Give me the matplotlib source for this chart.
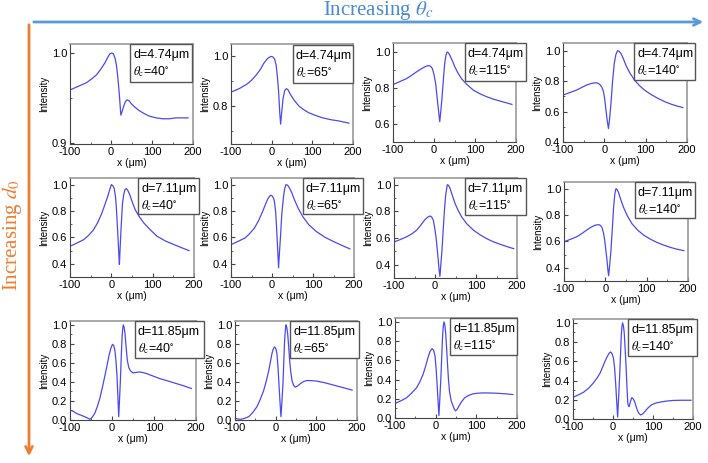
import matplotlib.pyplot as plt
from matplotlib.patches import Rectangle, FancyArrowPatch
from matplotlib.ticker import MultipleLocator

plt.rcParams['font.family'] = ['Liberation Sans', 'DejaVu Sans']
plt.rcParams['axes.unicode_minus'] = False
plt.rcParams['mathtext.fontset'] = 'stix'

d_labels = ['4.74', '7.11', '11.85']
theta_labels = ['40', '65', '115', '140']

# row 1: d = 4.74 um
x_11 = [-100, -80, -60, -45, -35, -25, -15, -8, -3, 2, 6, 10, 13, 16, 20, 24, 27, 31, 35, 39, 44, 49, 58, 69, 80, 93, 110, 126, 142, 158, 175, 188]
y_11 = [0.959, 0.963, 0.967, 0.972, 0.976, 0.982, 0.989, 0.995, 0.999, 1.0, 0.999, 0.994, 0.987, 0.976, 0.956, 0.931, 0.935, 0.941, 0.946, 0.948, 0.947, 0.944, 0.940, 0.936, 0.933, 0.930, 0.928, 0.927, 0.927, 0.928, 0.928, 0.928]
x_12 = [-100, -80, -62, -50, -37, -28, -19, -10, -2, 3, 7, 11, 14, 17, 20, 22, 25, 28, 32, 36, 40, 46, 55, 67, 80, 91, 108, 124, 145, 165, 190]
y_12 = [0.856, 0.870, 0.887, 0.903, 0.927, 0.947, 0.973, 0.992, 1.0, 0.998, 0.99, 0.965, 0.92, 0.86, 0.77, 0.727, 0.78, 0.83, 0.862, 0.870, 0.866, 0.847, 0.824, 0.80, 0.784, 0.773, 0.762, 0.753, 0.745, 0.74, 0.731]
x_13 = [-100, -84, -67, -55, -43, -33, -23, -16, -12, -8, -4, 0, 4, 7, 10, 14, 17, 20, 23, 26, 29, 32, 35, 38, 44, 51, 58, 67, 80, 96, 112, 129, 145, 162, 176, 190]
y_13 = [0.819, 0.835, 0.852, 0.870, 0.889, 0.904, 0.917, 0.923, 0.924, 0.92, 0.908, 0.875, 0.825, 0.76, 0.696, 0.613, 0.68, 0.76, 0.85, 0.935, 0.98, 1.0, 0.996, 0.985, 0.955, 0.917, 0.885, 0.852, 0.82, 0.788, 0.768, 0.751, 0.738, 0.727, 0.718, 0.709]
x_14 = [-100, -84, -67, -55, -43, -32, -22, -16, -11, -6, -2, 1, 4, 7, 10, 13, 16, 20, 24, 28, 32, 36, 40, 46, 52, 62, 73, 85, 97, 113, 130, 146, 162, 176, 190]
y_14 = [0.708, 0.724, 0.741, 0.758, 0.774, 0.784, 0.789, 0.787, 0.778, 0.76, 0.73, 0.68, 0.609, 0.54, 0.488, 0.56, 0.653, 0.80, 0.916, 0.975, 1.0, 0.995, 0.982, 0.947, 0.905, 0.852, 0.807, 0.77, 0.741, 0.712, 0.686, 0.665, 0.648, 0.636, 0.626]

# row 2: d = 7.11 um
x_21 = [-100, -84, -67, -55, -43, -33, -23, -16, -9, -4, 0, 4, 7, 10, 12, 14, 16, 18, 19.5, 21, 23, 25, 27, 30, 33, 36.5, 40, 45, 51, 58, 68, 79, 95, 111, 130, 151, 170, 188]
y_21 = [0.533, 0.556, 0.583, 0.615, 0.658, 0.712, 0.783, 0.845, 0.908, 0.96, 1.0, 0.99, 0.97, 0.91, 0.833, 0.72, 0.608, 0.48, 0.395, 0.50, 0.633, 0.75, 0.858, 0.925, 0.962, 0.97, 0.955, 0.92, 0.865, 0.808, 0.755, 0.708, 0.655, 0.608, 0.574, 0.546, 0.522, 0.50]
x_22 = [-100, -84, -66, -55, -43, -33, -23, -16, -11, -6, -2.5, 1, 4, 6, 9, 11, 13.5, 16, 18.5, 21, 24, 28, 31, 34, 38, 42, 48, 55, 64, 75, 90, 108, 128, 149, 170, 190]
y_22 = [0.545, 0.568, 0.595, 0.627, 0.67, 0.725, 0.795, 0.85, 0.887, 0.912, 0.92, 0.912, 0.895, 0.87, 0.79, 0.683, 0.53, 0.37, 0.50, 0.62, 0.78, 0.908, 0.97, 1.0, 0.995, 0.978, 0.94, 0.883, 0.82, 0.758, 0.695, 0.645, 0.603, 0.57, 0.54, 0.513]
x_23 = [-100, -85, -70, -57, -45, -35, -24.5, -17, -12, -8, -4, -1, 2.5, 5, 8, 10, 12, 14, 17, 20, 23, 26, 30, 33, 37, 42, 49, 56, 65, 78, 94, 110, 126, 142, 159, 175, 192]
y_23 = [0.57, 0.588, 0.608, 0.63, 0.658, 0.695, 0.738, 0.758, 0.765, 0.757, 0.733, 0.68, 0.608, 0.53, 0.433, 0.36, 0.313, 0.39, 0.508, 0.66, 0.808, 0.92, 1.0, 0.995, 0.97, 0.922, 0.858, 0.81, 0.758, 0.705, 0.658, 0.624, 0.595, 0.572, 0.553, 0.536, 0.52]
x_24 = [-100, -85, -70, -58, -46, -36, -26, -20, -14.5, -11, -8, -4.5, -1.6, 1, 4, 6, 8, 10.5, 13.7, 17, 20, 23, 25.8, 29, 32, 37, 44, 53, 64.5, 78, 93, 109, 125, 141, 157, 173, 190]
y_24 = [0.597, 0.615, 0.634, 0.657, 0.684, 0.705, 0.721, 0.726, 0.726, 0.718, 0.704, 0.665, 0.61, 0.54, 0.46, 0.39, 0.34, 0.42, 0.535, 0.70, 0.858, 0.96, 1.0, 0.99, 0.97, 0.92, 0.858, 0.795, 0.734, 0.686, 0.647, 0.617, 0.592, 0.572, 0.555, 0.541, 0.53]

# row 3: d = 11.85 um
x_31 = [-100, -92, -85, -75, -65, -57, -52, -47, -41, -35, -29, -23, -17.5, -12, -7, -3, 1, 4, 7, 9.5, 12, 14, 16, 18, 20, 22, 24, 25.5, 27, 29, 31, 33.5, 36.5, 40, 44, 50, 58, 66, 74, 82, 97, 113, 133, 153, 172, 189]
y_31 = [0.105, 0.09, 0.07, 0.052, 0.035, 0.018, 0.007, 0.03, 0.07, 0.14, 0.226, 0.34, 0.453, 0.57, 0.68, 0.75, 0.794, 0.785, 0.73, 0.62, 0.453, 0.25, 0.035, 0.22, 0.418, 0.66, 0.87, 0.96, 1.0, 0.97, 0.906, 0.77, 0.627, 0.55, 0.516, 0.495, 0.50, 0.505, 0.498, 0.488, 0.463, 0.436, 0.41, 0.383, 0.357, 0.331]
x_32 = [-100, -95, -87, -78, -66, -56, -46, -38, -29.5, -23, -17, -13, -9, -6, -3, 0, 3, 5.5, 8, 10.5, 13, 15.5, 18, 20, 22, 23.7, 25.4, 27.5, 29.5, 32, 34.4, 37, 40, 44, 48, 54, 61, 69, 77, 90, 102, 122, 143, 166, 188]
y_32 = [0.02, 0.012, 0.007, 0.015, 0.035, 0.08, 0.14, 0.215, 0.31, 0.41, 0.52, 0.61, 0.70, 0.745, 0.767, 0.755, 0.70, 0.57, 0.383, 0.2, 0.035, 0.20, 0.383, 0.62, 0.836, 0.94, 1.0, 0.97, 0.906, 0.77, 0.627, 0.51, 0.418, 0.365, 0.345, 0.358, 0.383, 0.405, 0.415, 0.413, 0.408, 0.39, 0.366, 0.34, 0.314]
x_33 = [-100, -86, -72, -60, -47, -39, -31, -25, -19, -14, -9, -5, -1.6, 1, 3.3, 5.7, 8, 10.5, 13, 15, 17, 18.8, 20.4, 22.5, 24.5, 27, 29.4, 31.7, 34, 38, 42.5, 46, 49, 53, 57, 63, 71, 81, 91.6, 104, 116, 132, 149, 170, 190]
y_33 = [0.15, 0.178, 0.209, 0.255, 0.314, 0.375, 0.453, 0.535, 0.627, 0.69, 0.721, 0.705, 0.645, 0.52, 0.366, 0.19, 0.025, 0.22, 0.436, 0.65, 0.854, 0.96, 1.0, 0.97, 0.889, 0.72, 0.54, 0.39, 0.279, 0.18, 0.129, 0.09, 0.075, 0.09, 0.122, 0.165, 0.209, 0.235, 0.251, 0.258, 0.261, 0.26, 0.258, 0.252, 0.244]
x_34 = [-100, -87, -74, -61, -49, -40, -32, -26, -20, -15, -11.6, -8.5, -6, -2.5, 1, 4, 6.6, 9, 11.6, 14, 16.6, 18.8, 20.7, 22.3, 24, 26, 28, 30.5, 33, 35, 37, 38.8, 40.6, 43.5, 47, 50.5, 54, 57, 60.5, 64.5, 69, 74, 79.5, 87, 96, 106, 117, 133, 150, 172, 195]
y_34 = [0.225, 0.25, 0.277, 0.32, 0.375, 0.425, 0.48, 0.54, 0.60, 0.645, 0.67, 0.69, 0.697, 0.68, 0.635, 0.53, 0.375, 0.2, 0.02, 0.22, 0.445, 0.67, 0.867, 0.96, 1.0, 0.97, 0.90, 0.72, 0.516, 0.32, 0.165, 0.135, 0.13, 0.18, 0.222, 0.21, 0.182, 0.14, 0.095, 0.06, 0.042, 0.052, 0.077, 0.113, 0.147, 0.165, 0.175, 0.186, 0.193, 0.195, 0.195]

curves = [[(x_11, y_11), (x_12, y_12), (x_13, y_13), (x_14, y_14)],
          [(x_21, y_21), (x_22, y_22), (x_23, y_23), (x_24, y_24)],
          [(x_31, y_31), (x_32, y_32), (x_33, y_33), (x_34, y_34)]]

# panel layout in pixels: left, right, top, bottom
axes_px = [[(70, 193, 44, 144), (231, 353, 44, 144), (393, 516, 43, 142), (563, 687, 43, 142)],
           [(70, 194, 178, 277), (231, 354, 178, 277), (394, 517, 178, 278), (564, 688, 182, 281)],
           [(70, 196, 321, 420), (235, 357, 321, 420), (395, 517, 318, 418), (573, 693, 319, 419)]]
# annotation boxes in pixels: left, top, right, bottom
boxes_px = [[(130, 44, 192, 82), (293, 45, 353, 83), (465, 43, 526, 81), (634, 43, 695, 80)],
            [(138, 178, 199, 214), (303, 178, 363, 214), (465, 178, 526, 215), (635, 182, 695, 218)],
            [(135, 321, 204, 358), (290, 321, 359, 358), (450, 318, 517, 355), (628, 319, 697, 356)]]
ylims = [[(0.899, 1.01), (0.647, 1.05), (0.5, 1.05), (0.4, 1.05)],
         [(0.3, 1.05)] * 4,
         [(0.0, 1.04)] * 4]
yticks = [[[0.9, 1.0], [0.8, 1.0], [0.6, 0.8, 1.0], [0.4, 0.6, 0.8, 1.0]],
          [[0.4, 0.6, 0.8, 1.0]] * 4,
          [[0.0, 0.2, 0.4, 0.6, 0.8, 1.0]] * 4]

W, H = 708, 463
fig = plt.figure(figsize=(W / 100, H / 100), dpi=100)

def fx(px):
    return px / W

def fy(py):
    return 1 - py / H

line_color = '#4a4af0'
for r in range(3):
    for c in range(4):
        L, R, T, B = axes_px[r][c]
        ax = fig.add_axes([fx(L), fy(B), (R - L) / W, (B - T) / H])
        xs, ys = curves[r][c]
        ax.plot(xs, ys, color=line_color, lw=0.9)
        ax.set_xlim(-100, 200)
        ax.set_ylim(*ylims[r][c])
        ax.set_xticks([-100, 0, 100, 200])
        ax.set_yticks(yticks[r][c])
        ax.xaxis.set_minor_locator(MultipleLocator(50))
        step = yticks[r][c][1] - yticks[r][c][0]
        ax.yaxis.set_minor_locator(MultipleLocator(step / 2))
        ax.tick_params(which='both', direction='in', labelsize=8, pad=2, color='#444')
        ax.tick_params(which='major', length=3)
        ax.tick_params(which='minor', length=1.5)
        for s in ['left', 'bottom']:
            ax.spines[s].set_color('#444')
            ax.spines[s].set_linewidth(0.8)
        for s in ['top', 'right']:
            ax.spines[s].set_color('#999')
            ax.spines[s].set_linewidth(1.2)
        ax.set_ylabel('Intensity', fontsize=7, labelpad=2)
        ax.set_xlabel('x (\u03bcm)', fontsize=7.5, labelpad=1)

        bl, bt, br, bb = boxes_px[r][c]
        fig.add_artist(Rectangle((fx(bl), fy(bb)), (br - bl) / W, (bb - bt) / H,
                                 transform=fig.transFigure, facecolor='white',
                                 edgecolor='#555', lw=1.0, zorder=5))
        fig.text(fx(bl + 3), fy(bt + 11), 'd=' + d_labels[r] + '\u03bcm',
                 fontsize=9, va='center', ha='left', zorder=6)
        fig.text(fx(bl + 3), fy(bt + 28), r'$\theta_{\rm c}$=' + theta_labels[c] + r'$^{\circ}$',
                 fontsize=9, va='center', ha='left', zorder=6)

# direction arrows
fig.add_artist(FancyArrowPatch((fx(31), fy(22)), (fx(706), fy(22)), transform=fig.transFigure,
                               arrowstyle='->', mutation_scale=12, lw=2, color='#5b9bd5'))
fig.add_artist(FancyArrowPatch((fx(29), fy(22)), (fx(29), fy(459)), transform=fig.transFigure,
                               arrowstyle='->', mutation_scale=12, lw=2, color='#ed7d31'))
fig.text(fx(378), fy(15), r'Increasing $\theta_c$', family='Liberation Serif', fontsize=15,
         color='#4a8ad4', ha='center', va='baseline')
fig.text(fx(12), fy(235), r'Increasing $d_0$', family='Liberation Serif', fontsize=15,
         color='#ed7d31', ha='center', va='center', rotation=90)

fig.savefig('out.png', dpi=100)
